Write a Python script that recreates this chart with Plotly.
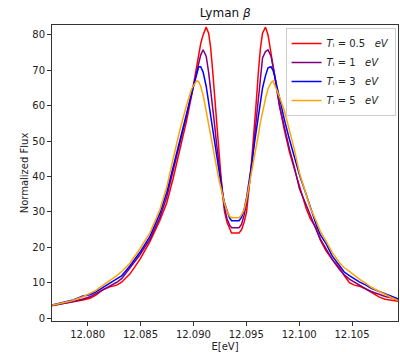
import plotly.graph_objects as go

energy = [12.07663, 12.07758, 12.07852, 12.07956, 12.08022, 12.08078, 12.08144, 12.08210,
          12.08276, 12.08324, 12.08399, 12.08493, 12.08588, 12.08682, 12.08748, 12.08809,
          12.08871, 12.08934, 12.08984, 12.09031, 12.09050, 12.09069, 12.09092, 12.09121,
          12.09144, 12.09163, 12.09182, 12.09201, 12.09220, 12.09239, 12.09258, 12.09276,
          12.09295, 12.09319, 12.09342, 12.09361, 12.09399, 12.09432, 12.09456, 12.09479,
          12.09503, 12.09522, 12.09541, 12.09559, 12.09578, 12.09597, 12.09616, 12.09635,
          12.09654, 12.09682, 12.09706, 12.09734, 12.09753, 12.09767, 12.09814, 12.09861,
          12.09908, 12.09956, 12.10003, 12.10066, 12.10107, 12.10160, 12.10201, 12.10255,
          12.10314, 12.10380, 12.10427, 12.10475, 12.10522, 12.10569, 12.10632, 12.10682,
          12.10758, 12.10814, 12.10871, 12.10940]

flux_t05 = [3.6, 4.0, 4.5, 5.1, 5.6, 6.5, 8.0, 8.8,
            9.3, 10.2, 12.4, 16.5, 21.5, 27.5, 32.5, 39.5,
            47.5, 55.5, 63.0, 71.0, 74.5, 77.5, 80.0, 82.2,
            80.5, 76.5, 70.0, 62.0, 54.0, 47.5, 41.0, 35.0,
            30.0, 27.0, 25.0, 24.0, 24.0, 24.0, 25.0, 27.0,
            30.0, 35.0, 41.0, 47.5, 54.0, 62.0, 70.0, 76.5,
            80.5, 82.2, 80.0, 75.0, 71.5, 68.0, 60.0, 53.0,
            47.0, 42.0, 37.6, 31.0, 28.0, 25.5, 22.0, 19.0,
            16.5, 14.3, 12.0, 10.0, 9.3, 9.0, 8.2, 7.2,
            5.9, 5.3, 5.0, 4.7]

flux_t1 = [3.5, 4.0, 4.6, 5.4, 6.0, 6.9, 8.0, 9.0,
           10.1, 11.2, 14.0, 17.8, 22.2, 28.3, 34.2, 41.5,
           49.5, 57.0, 63.5, 69.5, 72.0, 74.3, 75.8, 74.0,
           69.5, 65.0, 60.0, 54.5, 49.0, 44.0, 39.5, 35.0,
           31.0, 28.0, 26.3, 25.5, 25.5, 25.5, 26.5, 29.0,
           32.5, 36.0, 40.5, 45.5, 51.0, 57.0, 63.5, 69.5,
           73.5, 75.3, 75.8, 74.0, 71.5, 69.0, 60.0, 53.5,
           47.8, 42.5, 36.5, 32.0, 28.7, 25.0, 22.3, 19.5,
           16.5, 13.8, 12.2, 11.0, 10.1, 9.3, 8.2, 7.5,
           6.6, 6.1, 5.7, 5.0]

flux_t3 = [3.7, 4.3, 5.0, 6.2, 6.6, 7.4, 8.6, 9.8,
           11.0, 12.0, 14.7, 18.5, 23.0, 29.5, 35.5, 42.5,
           50.0, 57.5, 63.5, 69.5, 71.0, 71.0, 69.5, 65.5,
           61.0, 57.5, 53.5, 49.5, 46.0, 42.0, 38.5, 35.0,
           32.5, 30.0, 28.3, 27.5, 27.5, 27.5, 28.5, 30.5,
           34.0, 37.5, 41.0, 45.0, 49.5, 53.5, 57.0, 61.0,
           65.0, 68.5, 70.7, 71.0, 70.0, 68.5, 62.0, 56.0,
           50.5, 45.5, 40.5, 35.0, 31.0, 26.5, 23.5, 21.0,
           17.5, 14.7, 13.0, 12.0, 11.0, 10.2, 9.3, 8.4,
           7.5, 6.8, 6.2, 5.4]

flux_t5 = [3.6, 4.3, 4.9, 6.0, 6.9, 7.8, 9.2, 10.5,
           12.0, 13.2, 15.5, 19.5, 24.0, 30.5, 37.0, 45.0,
           53.0, 60.0, 64.8, 67.0, 66.8, 65.5, 63.0, 58.5,
           54.5, 51.5, 48.5, 45.5, 42.5, 39.5, 37.0, 34.5,
           32.3, 30.3, 28.8, 28.3, 28.3, 28.3, 29.2, 30.5,
           33.5, 36.5, 39.5, 42.5, 45.5, 48.5, 52.0, 55.5,
           58.5, 62.0, 64.8, 66.5, 67.0, 66.0, 62.5, 58.5,
           53.0, 47.5, 41.0, 34.5, 31.0, 27.5, 24.5, 21.7,
           18.5, 15.7, 14.2, 13.2, 12.0, 11.0, 9.8, 8.7,
           7.5, 6.6, 5.8, 4.9]

sp = "\u00a0\u00a0\u00a0"
series_names = [f"<i>T</i>ᵢ\u00a0=\u00a00.5{sp}<i>eV</i>",
                f"<i>T</i>ᵢ\u00a0=\u00a01{sp}<i>eV</i>",
                f"<i>T</i>ᵢ\u00a0=\u00a03{sp}<i>eV</i>",
                f"<i>T</i>ᵢ\u00a0=\u00a05{sp}<i>eV</i>"]
series_flux = [flux_t05, flux_t1, flux_t3, flux_t5]
series_colors = ["red", "purple", "blue", "orange"]

x_ticks = [12.080, 12.085, 12.090, 12.095, 12.100, 12.105]
y_ticks = [0, 10, 20, 30, 40, 50, 60, 70, 80]

fig = go.Figure()
for name, flux, color in zip(series_names, series_flux, series_colors):
    fig.add_trace(go.Scatter(x=energy, y=flux, mode="lines", name=name,
                             line=dict(color=color, width=1.5)))

axis_common = dict(showline=True, linecolor="#333", linewidth=1, mirror=True,
                   ticks="outside", ticklen=4, tickcolor="#333", showgrid=False,
                   zeroline=False, tickfont=dict(size=10, color="#222"))

fig.update_layout(
    width=400, height=352,
    margin=dict(l=52, r=1, t=25, b=28),
    paper_bgcolor="white", plot_bgcolor="white",
    font=dict(family="DejaVu Sans", size=10, color="#222"),
    title=dict(text="Lyman <i>β</i>", x=0.563, xanchor="center", y=0.975, yanchor="top",
               font=dict(size=12, color="#111")),
    xaxis=dict(range=[12.07663, 12.10935], tickvals=x_ticks,
               ticktext=[f"{v:.3f}" for v in x_ticks],
               title=dict(text="E[eV]", standoff=4, font=dict(size=10)), **axis_common),
    yaxis=dict(range=[-0.84, 82.8], tickvals=y_ticks,
               title=dict(text="Normalized Flux", standoff=1, font=dict(size=10)), **axis_common),
    legend=dict(x=0.993, y=0.99, xanchor="right", yanchor="top",
                bgcolor="rgba(255,255,255,0.9)", bordercolor="#ccc", borderwidth=1,
                font=dict(size=10), itemwidth=30, tracegroupgap=0),
)

fig.write_html("out.html", config={"displayModeBar": False},
               post_script="document.body.style.margin='0';document.body.style.padding='0';"
                           "document.body.style.overflow='hidden';")
